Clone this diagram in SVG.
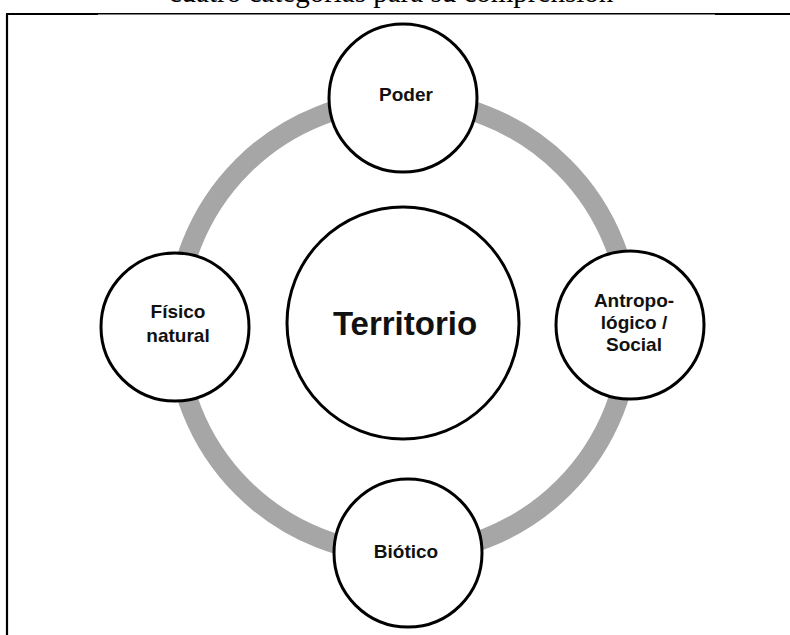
<svg xmlns="http://www.w3.org/2000/svg" width="790" height="635" viewBox="0 0 790 635">
  <style>
    .node circle { fill: #ffffff; stroke: #000000; stroke-width: 3; }
    .lbl { font-family: "Liberation Sans", Arial, sans-serif; font-weight: bold; fill: #111111; text-anchor: middle; }
    .sm { font-size: 19px; }
    .cap { font-family: "Liberation Serif", "Times New Roman", serif; font-size: 29px; fill: #000; text-anchor: middle; }
  </style>
  <rect x="0" y="0" width="790" height="635" fill="#ffffff"/>
  <text class="cap" x="391" y="2">cuatro categorías para su comprensión</text>
  <g id="frame" fill="none" stroke="#000">
    <line x1="7" y1="14" x2="7" y2="635" stroke-width="2.2"/>
    <line x1="6" y1="14" x2="98" y2="14" stroke-width="2.2"/>
    <line x1="98" y1="13.8" x2="715" y2="13.8" stroke-width="1.4"/>
    <line x1="715" y1="14" x2="790" y2="14" stroke-width="2.2"/>
  </g>
  <g id="connectors">
    <circle cx="403" cy="327" r="227" fill="none" stroke="#a6a6a6" stroke-width="20"/>
  </g>
  <g id="territorio" class="node">
    <circle cx="403" cy="323" r="116"/>
    <text class="lbl" x="405" y="335" font-size="33">Territorio</text>
  </g>
  <g id="poder" class="node">
    <circle cx="403" cy="98" r="74"/>
    <text class="lbl sm" x="406" y="101">Poder</text>
  </g>
  <g id="antropologico" class="node">
    <circle cx="630" cy="325" r="74"/>
    <text class="lbl sm" x="634" y="307">Antropo-</text>
    <text class="lbl sm" x="634" y="329">lógico /</text>
    <text class="lbl sm" x="634" y="351">Social</text>
  </g>
  <g id="fisico" class="node">
    <circle cx="175" cy="327" r="74"/>
    <text class="lbl sm" x="178" y="318">Físico</text>
    <text class="lbl sm" x="178" y="342">natural</text>
  </g>
  <g id="biotico" class="node">
    <circle cx="408" cy="553" r="74"/>
    <text class="lbl sm" x="406" y="558">Biótico</text>
  </g>
</svg>
